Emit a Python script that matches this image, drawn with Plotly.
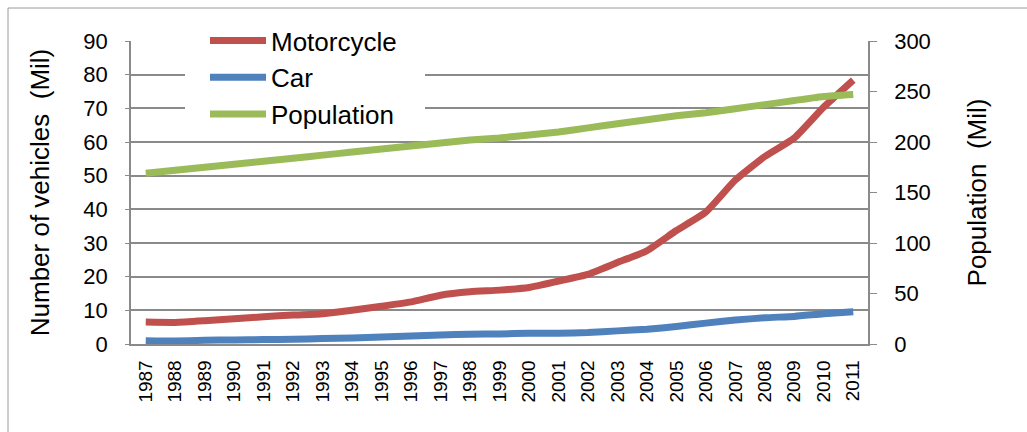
import plotly.graph_objects as go

# Indonesia: registered vehicles and population, 1987-2011 (millions)
years = list(range(1987, 2012))
motorcycle = [6.5, 6.4, 6.9, 7.5, 8.1, 8.6, 9.0, 10.0, 11.2, 12.5, 14.5, 15.5, 16.0, 16.8,
              18.7, 20.7, 24.2, 27.7, 33.7, 39.2, 48.7, 55.7, 61.2, 70.4, 78.4]
car = [1.0, 0.9, 1.1, 1.2, 1.3, 1.4, 1.6, 1.8, 2.1, 2.4, 2.7, 2.9, 3.0, 3.2,
       3.2, 3.4, 3.9, 4.4, 5.2, 6.2, 7.1, 7.8, 8.2, 9.0, 9.6]
population = [169, 172, 175, 178, 181, 184, 187, 190, 193, 196, 199, 202, 204, 207,
              210, 214, 218, 222, 226, 229, 233, 237, 241, 245, 247]

FONT = "Arial, 'Liberation Sans', sans-serif"
GRID = "#8a8a8a"

fig = go.Figure()
fig.add_trace(go.Scatter(x=years, y=motorcycle, name="Motorcycle", mode="lines",
                         line=dict(color="#C0504D", width=7, shape="spline", smoothing=0.5)))
fig.add_trace(go.Scatter(x=years, y=car, name="Car", mode="lines",
                         line=dict(color="#4F81BD", width=7, shape="spline", smoothing=0.5)))
fig.add_trace(go.Scatter(x=years, y=population, name="Population", mode="lines", yaxis="y2",
                         line=dict(color="#9BBB59", width=7, shape="spline", smoothing=0.5)))

W, H = 1027, 432
L, R, T, B = 131, 159, 41, 88
pw, ph = W - L - R, H - T - B


def px_x(px):
    return (px - L) / pw


def px_y(py):
    return (H - B - py) / ph


fig.update_layout(
    width=W, height=H,
    margin=dict(l=L, r=R, t=T, b=B),
    paper_bgcolor="white", plot_bgcolor="white",
    font=dict(family=FONT, color="#000000"),
    showlegend=True,
    legend=dict(x=px_x(205), y=px_y(17), xanchor="left", yanchor="top",
                bgcolor="white", borderwidth=0, font=dict(size=26, family=FONT),
                itemwidth=56, tracegroupgap=0),
    xaxis=dict(range=[1986.5, 2011.5], tickvals=years, ticktext=[str(y) for y in years],
               tickangle=-90, tickfont=dict(size=19), showgrid=False, zeroline=False,
               showline=True, linecolor=GRID, linewidth=1.5, ticks="", ticklabelstandoff=7),
    yaxis=dict(range=[0, 90], dtick=10, tickfont=dict(size=22), showgrid=True,
               gridcolor=GRID, gridwidth=1.5, zeroline=False, showline=True,
               linecolor=GRID, linewidth=1.5, ticks="outside", ticklen=4, tickcolor=GRID,
               ticklabelstandoff=13,
               title=dict(text="Number of vehicles\u00a0 (Mil)", font=dict(size=26), standoff=26)),
    yaxis2=dict(range=[0, 300], dtick=50, overlaying="y", side="right", tickfont=dict(size=22),
                showgrid=False, zeroline=False, showline=True, linecolor=GRID, linewidth=1.5,
                ticks="outside", ticklen=7, tickcolor=GRID, ticklabelstandoff=13,
                title=dict(text="Population\u00a0 (Mil)", font=dict(size=26), standoff=38)),
    shapes=[
        # chart frame
        dict(type="rect", xref="paper", yref="paper",
             x0=px_x(8), x1=px_x(1040), y0=px_y(8), y1=px_y(450),
             line=dict(color="#9a9a9a", width=1), layer="below"),
        # white panel behind the legend entries, hiding the gridlines there
        dict(type="rect", xref="paper", yref="paper",
             x0=px_x(185), x1=px_x(425), y0=px_y(132), y1=px_y(26),
             fillcolor="white", line=dict(width=0), layer="above"),
    ],
)

fig.write_html("out.html")
